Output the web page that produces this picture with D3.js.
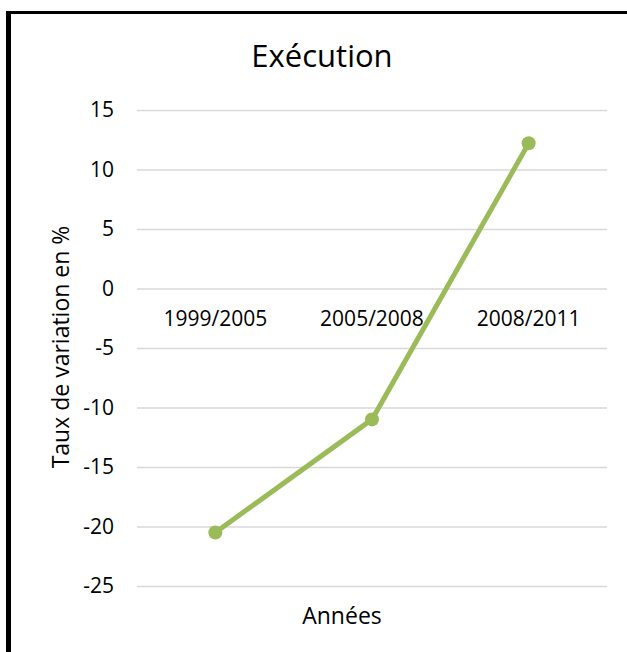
<!DOCTYPE html>
<html>
<head>
<meta charset="utf-8">
<script src="https://cdn.jsdelivr.net/npm/d3@7"></script>
<style>
  body { margin: 0; background: #fff; }
  text { font-family: "Open Sans", sans-serif; fill: #000; }
</style>
</head>
<body>
<svg width="627" height="652"></svg>
<script>
// chart data
var categories = ["1999/2005", "2005/2008", "2008/2011"];
var values = [-20.5, -11.0, 12.2];
var yTicks = [15, 10, 5, 0, -5, -10, -15, -20, -25];

var svg = d3.select("svg");

// frame (only top and left edges show in the picture)
svg.append("line")
    .attr("x1", 8.5).attr("x2", 8.5)
    .attr("y1", 11).attr("y2", 652)
    .attr("stroke", "#000").attr("stroke-width", 5);
svg.append("line")
    .attr("x1", 6).attr("x2", 627)
    .attr("y1", 12.5).attr("y2", 12.5)
    .attr("stroke", "#000").attr("stroke-width", 3);

var plotLeft = 137, plotRight = 607, plotTop = 110, plotBottom = 586;

var x = d3.scaleBand()
    .domain(categories)
    .range([plotLeft, plotRight]);

var y = d3.scaleLinear()
    .domain([-25, 15])
    .range([plotBottom, plotTop]);

// gridlines
svg.append("g")
  .selectAll("line")
  .data(yTicks)
  .enter().append("line")
    .attr("x1", plotLeft)
    .attr("x2", plotRight)
    .attr("y1", function(d) { return y(d) + 0.5; })
    .attr("y2", function(d) { return y(d) + 0.5; })
    .attr("stroke", "#d9d9d9")
    .attr("stroke-width", 1.3);

// y axis labels
svg.append("g")
  .selectAll("text")
  .data(yTicks)
  .enter().append("text")
    .attr("x", 114)
    .attr("y", function(d) { return y(d); })
    .attr("dy", "0.35em")
    .attr("text-anchor", "end")
    .attr("font-size", 21)
    .text(function(d) { return d; });

// category labels sit just under the zero line
svg.append("g")
  .selectAll("text")
  .data(categories)
  .enter().append("text")
    .attr("x", function(d) { return x(d) + x.bandwidth() / 2; })
    .attr("y", y(0) + 37)
    .attr("text-anchor", "middle")
    .attr("font-size", 21)
    .text(function(d) { return d; });

// the series
var line = d3.line()
    .x(function(d, i) { return x(categories[i]) + x.bandwidth() / 2; })
    .y(function(d) { return y(d); });

svg.append("path")
    .datum(values)
    .attr("d", line)
    .attr("fill", "none")
    .attr("stroke", "#9bbb59")
    .attr("stroke-width", 5)
    .attr("stroke-linejoin", "round");

svg.append("g")
  .selectAll("circle")
  .data(values)
  .enter().append("circle")
    .attr("cx", function(d, i) { return x(categories[i]) + x.bandwidth() / 2; })
    .attr("cy", function(d) { return y(d); })
    .attr("r", 7)
    .attr("fill", "#9bbb59");

// titles
svg.append("text")
    .attr("x", 322)
    .attr("y", 67)
    .attr("text-anchor", "middle")
    .attr("font-size", 31)
    .text("Exécution");

svg.append("text")
    .attr("transform", "translate(69,347) rotate(-90)")
    .attr("text-anchor", "middle")
    .attr("font-size", 23)
    .text("Taux de variation en %");

svg.append("text")
    .attr("x", 342)
    .attr("y", 624)
    .attr("text-anchor", "middle")
    .attr("font-size", 23)
    .text("Années");
</script>
</body>
</html>
